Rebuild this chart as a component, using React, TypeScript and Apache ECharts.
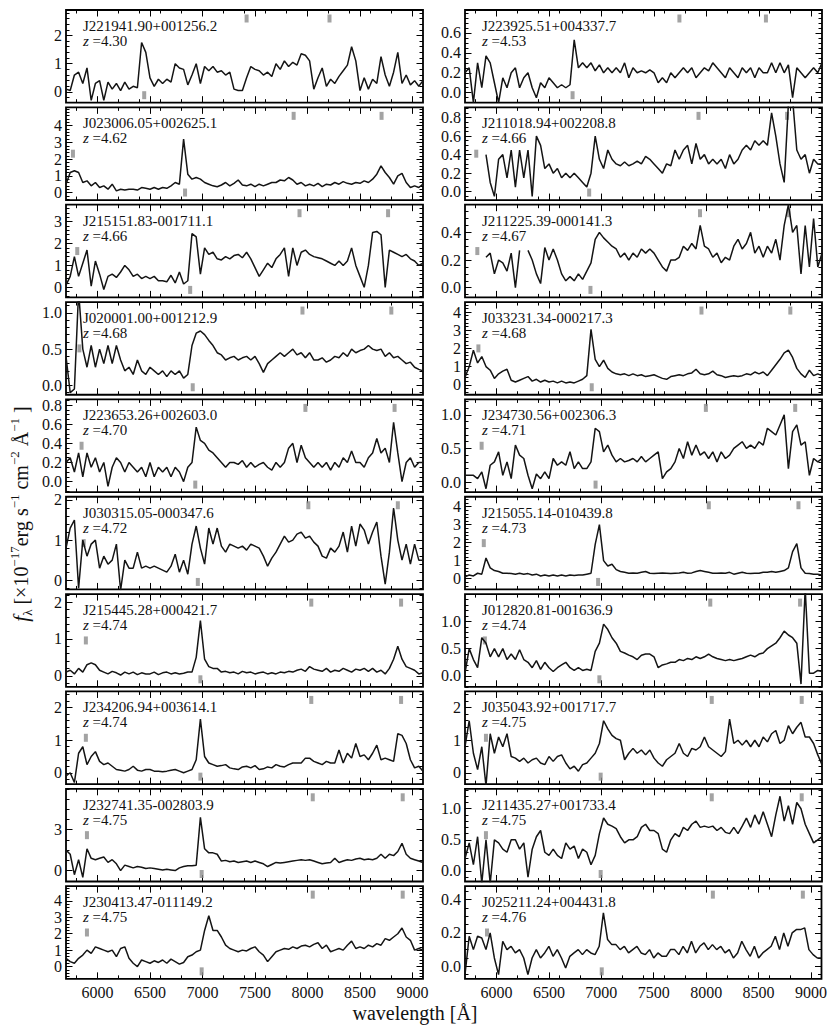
import React, { useEffect, useRef } from "react";
import * as echarts from "echarts";

// ---------------- data ----------------
const WAVE = [
  5700, 5740, 5780, 5820, 5860, 5900, 5940, 5980, 6020, 6060,
  6100, 6140, 6180, 6220, 6260, 6300, 6340, 6380, 6420, 6460,
  6500, 6540, 6580, 6620, 6660, 6700, 6740, 6780, 6820, 6860,
  6900, 6940, 6980, 7020, 7060, 7100, 7140, 7180, 7220, 7260,
  7300, 7340, 7380, 7420, 7460, 7500, 7540, 7580, 7620, 7660,
  7700, 7740, 7780, 7820, 7860, 7900, 7940, 7980, 8020, 8060,
  8100, 8140, 8180, 8220, 8260, 8300, 8340, 8380, 8420, 8460,
  8500, 8540, 8580, 8620, 8660, 8700, 8740, 8780, 8820, 8860,
  8900, 8940, 8980, 9020, 9060, 9100,
];

const NAMES = [
  "J221941.90+001256.2", "J023006.05+002625.1", "J215151.83-001711.1", "J020001.00+001212.9", "J223653.26+002603.0",
  "J030315.05-000347.6", "J215445.28+000421.7", "J234206.94+003614.1", "J232741.35-002803.9", "J230413.47-011149.2",
  "J223925.51+004337.7", "J211018.94+002208.8", "J211225.39-000141.3", "J033231.34-000217.3", "J234730.56+002306.3",
  "J215055.14-010439.8", "J012820.81-001636.9", "J035043.92+001717.7", "J211435.27+001733.4", "J025211.24+004431.8",
];

const REDSHIFTS = [4.30, 4.62, 4.66, 4.68, 4.70, 4.72, 4.74, 4.74, 4.75, 4.75,
  4.53, 4.66, 4.67, 4.68, 4.71, 4.73, 4.74, 4.75, 4.75, 4.76];

const Y_MIN = [-0.38, -0.45, -0.46, -0.13, -0.11, -0.23, -0.3, -0.35, -0.8, -0.75,
  -0.1, -0.09, -0.07, -0.55, -0.15, -0.6, -0.2, -0.35, -0.17, -0.075];
const Y_MAX = [2.9, 5.1, 3.77, 1.15, 0.86, 2.08, 2.22, 2.5, 6.0, 4.9,
  0.83, 0.91, 0.6, 4.55, 1.23, 4.55, 1.5, 2.5, 1.32, 0.48];

const Y_TICKS = [
  [0, 1, 2], [0, 1, 2, 3, 4], [0, 1, 2, 3], [0, 0.5, 1], [0, 0.2, 0.4, 0.6, 0.8],
  [0, 1, 2], [0, 1, 2], [0, 1, 2], [0, 3], [0, 1, 2, 3, 4],
  [0, 0.2, 0.4, 0.6], [0, 0.2, 0.4, 0.6, 0.8], [0, 0.2, 0.4], [0, 1, 2, 3, 4], [0, 0.5, 1],
  [0, 1, 2, 3, 4], [0, 0.5, 1], [0, 1, 2], [0, 0.5, 1], [0, 0.2, 0.4],
];
const Y_MINOR_STEP = [0.2, 0.2, 0.2, 0.1, 0.05, 0.2, 0.2, 0.2, 0.75, 0.2,
  0.05, 0.05, 0.05, 0.2, 0.1, 0.2, 0.1, 0.2, 0.1, 0.05];
const Y_DECIMALS = [0, 0, 0, 1, 1, 0, 0, 0, 0, 0, 1, 1, 1, 0, 1, 0, 1, 0, 1, 1];

const X_TICKS = [6000, 6500, 7000, 7500, 8000, 8500, 9000];
const X_MINOR_TICKS = [5800, 6000, 6200, 6400, 6600, 6800, 7000, 7200, 7400, 7600, 7800, 8000, 8200, 8400, 8600, 8800, 9000];

// rest wavelengths of marked lines: Ly-beta, Ly-alpha, SiIV, CIV
const LINE_REST = [1026, 1216, 1400, 1549];
const LINE_SLOT = ["mid", "bottom", "top", "top"];

const F_L0 = [
  0.1, 0.05, 0.6, 0.7, 0.3, 0.85, -0.3, 0.3, 0.4, -0.3,
  0.35, 0.1, 0.3, 0.05, 0.35, 0.1, 0.2, 0.15, 1.75, 1.4,
  0.5, 0.2, 0.45, 0.3, 0.45, 0.35, 1.0, 0.85, 0.8, 0.25,
  0.6, 1.0, 0.3, 0.9, 0.75, 0.9, 0.7, 0.75, 0.6, 0.7,
  0.1, 0.05, 0.05, 0.5, 0.9, 0.8, 0.75, 0.6, 0.7, 0.55,
  1.0, 0.8, 1.1, 0.9, 1.05, 0.95, 1.35, 1.3, 1.1, 0.1,
  0.5, 0.85, 0.2, 0.45, 0.3, 0.55, 0.75, 0.95, 1.6, 1.1,
  0.05, 0.5, 0.1, 0.45, 0.3, 1.25, 0.6, 0.2, 0.7, 1.4,
  0.3, 0.6, 0.25, 0.4, 0.2, 0.4,
];
const F_L1 = [
  0.5, 1.2, 1.3, 1.2, 0.6, 0.7, 0.4, 0.6, 0.3, 0.4,
  0.2, 0.5, 0.1, 0.2, 0.15, 0.2, 0.2, 0.15, 0.3, 0.25,
  0.2, 0.3, 0.2, 0.3, 0.25, 0.4, 0.6, 0.5, 3.2, 1.1,
  0.8, 0.9, 0.8, 0.6, 0.5, 0.4, 0.35, 0.45, 0.6, 0.4,
  0.55, 0.75, 0.45, 0.4, 0.5, 0.35, 0.5, 0.4, 0.5, 0.6,
  0.6, 0.75, 0.7, 0.9, 0.75, 0.5, 0.6, 0.4, 0.5, 0.4,
  0.55, 0.35, 0.5, 0.45, 0.6, 0.5, 0.65, 0.55, 0.5, 0.6,
  0.55, 0.7, 0.6, 0.8, 1.1, 1.6, 1.2, 0.9, 0.5, 1.0,
  1.15, 0.6, 0.3, 0.4, 0.3, 0.5,
];
const F_L2 = [
  0.1, 0.5, 1.4, 0.5, 1.1, 1.7, 0.05, 1.2, 0.6, -0.1,
  0.5, 0.6, 0.45, 0.7, 1.0, 0.8, 0.5, 0.6, 0.4, 0.5,
  0.4, 0.5, 0.3, 0.3, 0.25, 0.55, 0.2, 0.7, 0.15, 0.3,
  2.45, 2.3, 0.6, 1.8, 1.5, 1.6, 1.3, 1.25, 1.4, 1.3,
  1.45, 1.5, 1.35, 1.6, 1.3, 0.9, 0.5, 0.8, 1.1, 0.9,
  1.3, 1.5, 1.8, 0.5, 1.8, 1.0, 1.6, 1.7, 1.5, 1.4,
  1.35, 1.3, 1.2, 1.1, 1.0, 1.2, 1.0, 1.2, 1.8, 1.0,
  0.5, 0.0, 1.0, 2.5, 2.55, 2.4, 0.0, 1.7, 1.6, 1.5,
  1.4, 1.5, 1.3, 1.2, 1.0, 1.1,
];
const F_L3 = [
  0.4, -0.1, -0.05, 1.3, 0.5, 0.25, 0.55, 0.25, 0.5, 0.3,
  0.55, 0.3, 0.55, 0.35, 0.2, 0.25, 0.15, 0.35, 0.2, 0.15,
  0.25, 0.2, 0.15, 0.2, 0.12, 0.2, 0.15, 0.2, 0.1, 0.15,
  0.55, 0.72, 0.75, 0.7, 0.62, 0.55, 0.45, 0.42, 0.35, 0.38,
  0.4, 0.35, 0.38, 0.4, 0.35, 0.4, 0.3, 0.18, 0.3, 0.35,
  0.4, 0.45, 0.4, 0.45, 0.5, 0.42, 0.45, 0.38, 0.45, 0.35,
  0.35, 0.38, 0.32, 0.35, 0.4, 0.38, 0.45, 0.4, 0.5, 0.45,
  0.48, 0.5, 0.55, 0.5, 0.48, 0.5, 0.4, 0.45, 0.38, 0.4,
  0.35, 0.3, 0.32, 0.25, 0.22, 0.2,
];
const F_L4 = [
  0.2, 0.25, 0.1, 0.3, 0.05, 0.3, 0.15, 0.25, 0.1, 0.2,
  -0.05, 0.15, 0.25, 0.2, 0.1, 0.2, 0.15, 0.1, 0.15, 0.05,
  0.2, 0.05, 0.15, 0.1, 0.15, 0.05, 0.15, 0.1, 0.0, 0.15,
  0.2, 0.57, 0.43, 0.4, 0.33, 0.3, 0.25, 0.2, 0.15, 0.2,
  0.2, 0.18, 0.22, 0.15, 0.2, 0.15, 0.18, 0.2, 0.15, 0.12,
  0.2, 0.15, 0.2, 0.35, 0.4, 0.2, 0.38, 0.25, 0.2, 0.15,
  0.2, 0.15, 0.2, 0.12, 0.2, 0.15, 0.25, 0.2, 0.32, 0.2,
  0.2, 0.15, 0.25, 0.3, 0.45, 0.3, 0.35, 0.2, 0.62, 0.3,
  0.0, 0.2, 0.25, 0.15, 0.2, 0.2,
];
const F_L5 = [
  0.8, 1.3, 1.5, -0.2, 1.0, 0.6, 0.9, 1.0, 0.3, 0.6,
  0.4, 0.5, 0.9, -0.25, 0.5, 0.3, 0.3, 0.7, 0.3, 0.35,
  0.3, 0.35, 0.3, 0.25, 0.2, 0.35, 0.65, 0.2, 0.5, 0.15,
  0.9, 1.35, 0.8, 0.4, 1.3, 0.9, 1.3, 0.85, 0.7, 0.9,
  0.85, 0.8, 0.85, 0.75, 0.9, 0.85, 0.8, 0.6, 0.35, 0.55,
  0.7, 0.9, 1.1, 0.95, 1.0, 1.15, 1.2, 1.05, 1.1, 0.95,
  0.85, 0.6, 0.55, 0.8, 0.7, 0.85, 1.2, 0.7, 1.35, 0.85,
  1.4, 1.25, 0.9, 1.2, 1.45, 0.6, -0.1, 0.7, 1.8, 1.0,
  0.5, 0.9, 0.4, 0.9, 0.5, 0.5,
];
const F_L6 = [
  0.1, 0.15, 0.05, 0.2, 0.1, 0.3, 0.35, 0.3, 0.15, 0.1,
  0.05, 0.12, 0.08, 0.02, 0.1, 0.05, 0.1, 0.03, 0.08, 0.05,
  0.05, 0.1, 0.03, 0.08, 0.1, 0.05, 0.08, 0.05, 0.07, 0.1,
  0.1, 0.5, 1.5, 0.45, 0.25, 0.2, 0.2, 0.1, 0.12, 0.08,
  0.1, 0.05, 0.12, 0.08, 0.1, 0.05, 0.08, 0.1, 0.05, 0.08,
  0.05, 0.1, 0.08, 0.12, 0.1, 0.15, 0.18, 0.12, 0.25, 0.18,
  0.15, 0.12, 0.2, 0.1, 0.15, 0.12, 0.2, 0.15, 0.1, 0.18,
  0.15, 0.2, 0.12, 0.2, 0.1, 0.15, 0.05, 0.2, 0.45, 0.8,
  0.45, 0.25, 0.2, 0.15, 0.05, 0.08,
];
const F_L7 = [
  -0.1, 0.0, -0.3, 0.6, 0.8, 0.25, 0.5, 0.65, 0.35, 0.25,
  0.3, 0.2, 0.1, 0.08, 0.05, 0.1, 0.2, 0.08, 0.05, 0.1,
  0.1, 0.05, 0.05, 0.03, 0.05, 0.08, 0.1, 0.05, 0.0, 0.05,
  0.1, 0.4, 1.65, 0.5, 0.3, 0.25, 0.2, 0.22, 0.25, 0.15,
  0.12, 0.1, 0.18, 0.2, 0.15, 0.22, 0.1, 0.12, 0.18, 0.15,
  0.25, 0.2, 0.18, 0.25, 0.3, 0.3, 0.3, 0.45, 0.45, 0.35,
  0.3, 0.25, 0.35, 0.3, 0.3, 0.7, 0.3, 0.6, 0.45, 0.9,
  0.5, 0.55, 0.4, 0.6, 0.85, 0.4, 0.45, 0.4, 0.35, 1.2,
  1.15, 0.9, 0.4, 0.15, 0.2, 0.05,
];
const F_L8 = [
  1.5, 1.2, -0.3, 0.8, -0.5, 1.6, 0.9, 0.8, 0.9, 1.0,
  0.6, 0.8, 0.5, 0.0, 0.4, 0.3, 0.2, 0.3, 0.25, 0.15,
  0.2, 0.15, 0.1, 0.05, 0.1, 0.05, 0.0, 0.2, 0.3, 0.35,
  0.35, 0.4, 3.9, 1.6, 1.3, 1.3, 1.2, 0.7, 0.75, 0.65,
  0.7, 0.6, 0.65, 0.7, 0.6, 0.7, 0.6, 0.5, 0.3, 0.45,
  0.6, 0.55, 0.6, 0.65, 0.7, 0.75, 0.8, 0.75, 0.8, 0.7,
  0.6, 0.5, 0.55, 0.6, 0.9, 0.6, 0.7, 0.8, 0.75, 0.85,
  0.9, 0.8, 0.85, 0.8, 0.9, 1.2, 0.9, 1.2, 1.1, 1.4,
  2.0, 1.2, 0.9, 0.8, 0.7, 0.6,
];
const F_L9 = [
  0.5, 0.3, 0.2, 0.5, 0.7, 1.0, 0.8, 1.2, 1.1, 1.0,
  0.9, 1.0, 0.6, 1.1, 1.2, 0.5, 0.2, 0.0, 0.4, 0.3,
  0.2, 0.35, 0.25, 0.4, 0.2, 0.45, 0.3, 0.15, 0.25, 0.6,
  0.7, 0.9, 1.0, 2.2, 3.1, 2.2, 2.2, 1.8, 1.3, 1.1,
  1.0, 0.9, 1.0, 0.95, 1.1, 1.2, 0.9, 0.7, 0.3, 0.6,
  0.9, 1.0, 1.1, 1.05, 1.2, 1.1, 1.25, 1.3, 1.2, 1.35,
  1.45, 1.1, 1.3, 0.9, 1.0, 1.1, 1.0, 1.3, 1.55, 1.1,
  1.2, 1.1, 1.3, 1.2, 1.4, 1.3, 1.7, 1.6, 1.8, 2.0,
  2.35, 1.8, 1.6, 1.0, 1.1, 1.0,
];
const F_R0 = [
  0.2, 0.25, -0.1, 0.3, 0.05, 0.37, 0.3, 0.1, -0.1, 0.15,
  0.05, 0.2, 0.25, 0.05, 0.15, 0.2, 0.05, -0.05, 0.1, 0.05,
  0.15, 0.1, 0.05, 0.08, 0.05, 0.08, 0.53, 0.25, 0.3, 0.25,
  0.3, 0.22, 0.28, 0.2, 0.25, 0.2, 0.25, 0.2, 0.3, 0.15,
  0.25, 0.2, 0.22, 0.2, 0.23, 0.2, 0.1, 0.15, 0.1, 0.2,
  0.15, 0.2, 0.25, 0.2, 0.25, 0.15, 0.2, 0.25, 0.22, 0.3,
  0.25, 0.2, 0.15, 0.25, 0.2, 0.15, 0.25, 0.2, 0.25, 0.15,
  0.25, 0.2, 0.2, 0.3, 0.2, 0.3, 0.2, 0.28, -0.05, 0.25,
  0.2, 0.15, 0.2, 0.25, 0.2, 0.3,
];
const F_R1 = [
  null, null, null, null, null, 0.4, 0.1, -0.05, 0.35, 0.4,
  0.15, 0.45, 0.05, 0.45, 0.15, 0.45, -0.05, 0.6, 0.5, 0.25,
  0.3, 0.2, 0.25, 0.15, 0.2, 0.15, 0.2, 0.15, 0.1, 0.05,
  0.2, 0.6, 0.35, 0.25, 0.45, 0.35, 0.3, 0.28, 0.32, 0.28,
  0.3, 0.33, 0.3, 0.38, 0.35, 0.3, 0.25, 0.2, 0.3, 0.28,
  0.45, 0.35, 0.45, 0.5, 0.3, 0.52, 0.35, 0.4, 0.3, 0.35,
  0.3, 0.35, 0.25, 0.4, 0.3, 0.35, 0.45, 0.5, 0.45, 0.55,
  0.5, 0.55, 0.5, 0.85, 0.6, 0.3, 0.1, 0.95, 1.0, 0.45,
  0.35, 0.4, 0.2, 0.35, 0.3, 0.3,
];
const F_R2 = [
  null, null, null, null, null, 0.22, 0.25, 0.1, 0.2, 0.18,
  0.12, 0.25, 0.0, 0.27, null, 0.27, 0.2, 0.1, 0.03, 0.29,
  0.2, 0.28, 0.2, 0.1, 0.05, 0.08, 0.05, 0.1, 0.06, 0.12,
  0.18, 0.35, 0.4, 0.36, 0.33, 0.3, 0.28, 0.22, 0.25, 0.2,
  0.25, 0.22, 0.28, 0.25, 0.28, 0.25, 0.2, 0.15, 0.12, 0.2,
  0.2, 0.22, 0.3, 0.27, 0.32, 0.28, 0.45, 0.3, 0.28, 0.22,
  0.25, 0.18, 0.22, 0.2, 0.3, 0.35, 0.28, 0.32, 0.4, 0.25,
  0.3, 0.22, 0.3, 0.25, 0.35, 0.2, 0.45, 0.6, 0.4, 0.45,
  0.1, 0.45, 0.15, 0.5, 0.15, 0.25,
];
const F_R3 = [
  0.4, 1.0, 1.9, 1.2, 1.55, 1.0, 0.8, 0.35, 0.6, 0.75,
  0.85, 0.25, 0.15, 0.25, 0.35, 0.45, 0.2, 0.3, 0.15, 0.25,
  0.15, 0.2, 0.1, 0.2, 0.1, 0.15, 0.1, 0.2, 0.3, 0.5,
  3.05, 1.4, 1.0, 1.35, 0.9, 0.7, 0.6, 0.55, 0.6, 0.5,
  0.6, 0.5, 0.55, 0.45, 0.5, 0.55, 0.45, 0.35, 0.3, 0.45,
  0.5, 0.55, 0.5, 0.6, 0.65, 0.85, 0.6, 0.55, 0.6, 0.75,
  0.55, 0.5, 0.4, 0.45, 0.5, 0.45, 0.5, 0.6, 0.55, 0.7,
  0.6, 0.7, 0.5, 0.8, 1.1, 1.4, 1.75, 1.9, 1.5, 0.9,
  0.6, 0.4, 0.8, 0.5, 0.6, 0.5,
];
const F_R4 = [
  0.1, 0.1, 0.1, 0.05, 0.15, -0.1, 0.25, 0.3, 0.45, 0.1,
  0.3, 0.05, 0.55, 0.4, 0.35, 0.1, -0.1, 0.12, 0.05, 0.15,
  0.05, 0.35, 0.25, 0.3, 0.25, 0.45, 0.2, 0.3, 0.2, 0.2,
  0.3, 0.8, 0.75, 0.45, 0.55, 0.4, 0.3, 0.35, 0.3, 0.32,
  0.35, 0.3, 0.38, 0.3, 0.35, 0.4, 0.45, 0.05, 0.15, 0.2,
  0.3, 0.5, 0.35, 0.6, 0.4, 0.55, 0.4, 0.45, 0.35, 0.45,
  0.3, 0.45, 0.35, 0.4, 0.5, 0.55, 0.6, 0.5, 0.55, 0.5,
  0.6, 0.55, 0.8, 0.75, 0.7, 0.85, 1.0, 0.2, 0.75, 0.85,
  0.55, 0.6, 0.1, 0.35, 0.3, 0.35,
];
const F_R5 = [
  0.1, 0.2, 0.15, 0.3, 0.25, 1.15, 0.6, 0.45, 0.4, 0.3,
  0.3, 0.28, 0.25, 0.3, 0.25, 0.28, 0.2, 0.25, 0.15, 0.2,
  0.15, 0.2, 0.15, 0.2, 0.15, 0.2, 0.18, 0.2, 0.2, 0.25,
  0.3, 1.9, 3.0, 1.0, 0.7, 0.8, 0.5, 0.4, 0.35, 0.3,
  0.32, 0.3, 0.35, 0.4, 0.3, 0.28, 0.3, 0.32, 0.3, 0.28,
  0.3, 0.32, 0.35, 0.3, 0.32, 0.4, 0.45, 0.4, 0.35, 0.3,
  0.3, 0.32, 0.3, 0.35, 0.25, 0.3, 0.35, 0.3, 0.28, 0.3,
  0.3, 0.35, 0.35, 0.4, 0.35, 0.4, 0.45, 0.6, 1.5, 1.95,
  0.6, 0.3, 0.28, 0.25, 0.25, 0.2,
];
const F_R6 = [
  0.05, 0.5, 0.3, 0.15, 0.7, 0.6, 0.35, 0.5, 0.35, 0.5,
  0.3, 0.4, 0.3, 0.48, 0.3, 0.25, 0.15, 0.28, 0.12, 0.25,
  0.15, 0.08, 0.15, 0.2, 0.25, 0.15, 0.1, 0.15, 0.1, 0.12,
  0.1, 0.45, 0.6, 0.95, 0.85, 0.7, 0.6, 0.45, 0.42, 0.38,
  0.35, 0.3, 0.38, 0.4, 0.4, 0.35, 0.15, 0.2, 0.22, 0.25,
  0.25, 0.3, 0.28, 0.32, 0.3, 0.35, 0.32, 0.35, 0.4, 0.35,
  0.32, 0.3, 0.28, 0.3, 0.28, 0.3, 0.32, 0.35, 0.38, 0.35,
  0.4, 0.42, 0.5, 0.55, 0.6, 0.7, 0.82, 0.75, 0.7, 0.6,
  -0.15, 1.6, 0.05, 0.05, 0.1, 0.08,
];
const F_R7 = [
  0.8, 1.6, 0.6, 0.1, 0.8, -0.4, 1.2, 0.6, 1.1, 0.8,
  1.2, 0.5, 0.45, 0.35, 0.45, 0.3, 0.4, 0.45, 0.3, 0.25,
  0.5, 0.35, 0.5, 0.55, 0.3, 0.12, 0.2, 0.05, 0.25, 0.3,
  0.45, 0.6, 0.9, 1.6, 1.35, 1.15, 1.05, 1.0, 0.4, 0.6,
  0.75, 0.6, 0.7, 0.55, 0.7, 0.45, 0.3, 0.2, 0.4, 0.5,
  0.6, 0.9, 0.6, 0.5, 0.75, 0.7, 0.8, 1.1, 0.8, 0.7,
  0.6, 0.5, 0.65, 1.65, 0.9, 1.0, 0.85, 1.0, 0.8, 1.0,
  0.8, 1.1, 0.95, 1.2, 1.3, 0.9, 1.0, 1.45, 1.2, 1.4,
  1.55, 1.1, 1.1, 0.9, 0.55, 0.25,
];
const F_R8 = [
  0.2, 0.45, 0.1, 0.55, -0.2, 0.5, -0.2, 0.5, 0.45, 0.35,
  0.3, 0.5, 0.5, 0.35, 0.45, -0.1, 0.35, 0.55, 0.65, 0.3,
  0.25, 0.35, 0.25, 0.2, 0.45, 0.35, 0.4, 0.2, 0.35, 0.3,
  0.1, 0.25, 0.6, 0.85, 0.75, 0.72, 0.68, 0.55, 0.45, 0.5,
  0.5, 0.55, 0.7, 0.75, 0.65, 0.65, 0.6, 0.35, 0.3, 0.5,
  0.6, 0.55, 0.7, 0.65, 0.75, 0.8, 0.7, 0.72, 0.7, 0.72,
  0.65, 0.7, 0.62, 0.6, 0.7, 0.6, 0.72, 0.85, 0.7, 0.9,
  0.75, 0.95, 0.75, 0.55, 0.9, 1.2, 0.8, 1.05, 0.75, 1.1,
  1.0, 0.75, 0.6, 0.45, 0.5, 0.55,
];
const F_R9 = [
  -0.05, 0.18, 0.1, 0.18, 0.17, 0.1, 0.2, 0.05, -0.05, 0.15,
  0.1, 0.12, 0.08, 0.1, 0.05, -0.05, 0.05, 0.1, 0.05, 0.08,
  0.12, 0.06, 0.1, 0.05, -0.01, 0.06, 0.08, 0.1, 0.07, 0.1,
  0.08, 0.07, 0.12, 0.32, 0.16, 0.13, 0.13, 0.1, 0.12, 0.08,
  0.1, 0.12, 0.08, 0.07, 0.1, 0.05, 0.08, 0.06, 0.06, 0.1,
  0.1, 0.07, 0.12, 0.08, 0.15, 0.08, 0.12, 0.14, 0.1, 0.13,
  0.1, 0.12, 0.08, 0.1, 0.05, 0.08, 0.15, 0.1, 0.06, 0.12,
  0.05, 0.08, 0.1, 0.12, 0.18, 0.1, 0.2, 0.12, 0.2, 0.22,
  0.22, 0.23, 0.1, 0.07, 0.05, 0.05,
];

const FLUXES = [F_L0, F_L1, F_L2, F_L3, F_L4, F_L5, F_L6, F_L7, F_L8, F_L9,
  F_R0, F_R1, F_R2, F_R3, F_R4, F_R5, F_R6, F_R7, F_R8, F_R9];

// ---------------- layout ----------------
const FONT = "Liberation Serif";
const X_MIN = 5700;
const X_MAX = 9100;
const COL_LEFT = [66, 465];
const GRID_W = 357;
const GRID_TOP0 = 10;
const ROW_STEP = 97.35;
const GRID_H = 92.7;

function minorValues(min: number, max: number, step: number) {
  const out: number[] = [];
  const start = Math.ceil(min / step - 1e-9);
  for (let k = start; k * step <= max + 1e-9; k++) out.push(+(k * step).toFixed(4));
  return out;
}

function buildOption() {
  const grids: any[] = [];
  const xAxes: any[] = [];
  const yAxes: any[] = [];
  const series: any[] = [];
  const elements: any[] = [];

  for (let p = 0; p < 20; p++) {
    const col = Math.floor(p / 10);
    const row = p % 10;
    const left = COL_LEFT[col];
    const top = GRID_TOP0 + row * ROW_STEP;
    const ymin = Y_MIN[p];
    const ymax = Y_MAX[p];
    const dec = Y_DECIMALS[p];
    const yMinor = minorValues(ymin, ymax, Y_MINOR_STEP[p]);

    grids.push({
      left, top, width: GRID_W, height: GRID_H,
      show: true, borderColor: "#000", borderWidth: 1.8, backgroundColor: "transparent",
    });

    const tickStyle = { color: "#000", width: 1 };
    const noLine = { show: false, onZero: false };
    const xBase = { gridIndex: p, type: "value", min: X_MIN, max: X_MAX, axisLine: noLine, splitLine: { show: false } };
    xAxes.push({
      ...xBase, position: "bottom",
      axisTick: { show: true, inside: true, length: 6.5, customValues: X_TICKS, lineStyle: tickStyle },
      axisLabel: {
        show: row === 9, customValues: X_TICKS, fontFamily: FONT, fontSize: 16, color: "#111", margin: 6,
        formatter: (v: number) => String(Math.round(v)),
      },
    });
    xAxes.push({
      ...xBase, position: "bottom",
      axisTick: { show: true, inside: true, length: 3.5, customValues: X_MINOR_TICKS, lineStyle: tickStyle },
      axisLabel: { show: false },
    });
    xAxes.push({
      ...xBase, position: "top",
      axisTick: { show: true, inside: true, length: 6.5, customValues: X_TICKS, lineStyle: tickStyle },
      axisLabel: { show: false },
    });
    xAxes.push({
      ...xBase, position: "top",
      axisTick: { show: true, inside: true, length: 3.5, customValues: X_MINOR_TICKS, lineStyle: tickStyle },
      axisLabel: { show: false },
    });

    const yBase = { gridIndex: p, type: "value", min: ymin, max: ymax, axisLine: noLine, splitLine: { show: false } };
    yAxes.push({
      ...yBase, position: "left",
      axisTick: { show: true, inside: true, length: 6.5, customValues: Y_TICKS[p], lineStyle: tickStyle },
      axisLabel: {
        show: true, customValues: Y_TICKS[p], fontFamily: FONT, fontSize: 16, color: "#111", margin: 4,
        formatter: (v: number) => Number(v).toFixed(dec),
      },
    });
    yAxes.push({
      ...yBase, position: "left",
      axisTick: { show: true, inside: true, length: 3.5, customValues: yMinor, lineStyle: tickStyle },
      axisLabel: { show: false },
    });
    yAxes.push({
      ...yBase, position: "right",
      axisTick: { show: true, inside: true, length: 6.5, customValues: Y_TICKS[p], lineStyle: tickStyle },
      axisLabel: { show: false },
    });
    yAxes.push({
      ...yBase, position: "right",
      axisTick: { show: true, inside: true, length: 3.5, customValues: yMinor, lineStyle: tickStyle },
      axisLabel: { show: false },
    });

    const flux = FLUXES[p];
    series.push({
      type: "line",
      xAxisIndex: 4 * p,
      yAxisIndex: 4 * p,
      data: WAVE.map((w, i) => [w, flux[i] === null ? "-" : flux[i]]),
      showSymbol: false,
      symbol: "none",
      connectNulls: false,
      clip: true,
      silent: true,
      lineStyle: { color: "#141414", width: 1.5 },
      z: 3,
    });

    const z = REDSHIFTS[p];
    const span = ymax - ymin;
    const marks: any[] = [];
    LINE_REST.forEach((rest, k) => {
      const obs = rest * (1 + z);
      if (obs < X_MIN || obs > X_MAX) return;
      const slot = LINE_SLOT[k];
      const y = slot === "mid" ? (ymin + ymax) / 2
        : slot === "bottom" ? ymin + (7.5 / GRID_H) * span
        : ymax - (8.5 / GRID_H) * span;
      marks.push([obs, y]);
    });
    series.push({
      type: "scatter",
      xAxisIndex: 4 * p,
      yAxisIndex: 4 * p,
      data: marks,
      symbol: "rect",
      symbolSize: [4, 8],
      silent: true,
      itemStyle: { color: "#8c8c8c" },
      z: 2,
    });

    elements.push({
      type: "text",
      x: left + 17,
      y: top + 16,
      z: 10,
      silent: true,
      style: { text: NAMES[p], fontFamily: FONT, fontSize: 15, fill: "#111", verticalAlign: "middle", align: "left" },
    });
    elements.push({
      type: "text",
      x: left + 17,
      y: top + 31,
      z: 10,
      silent: true,
      style: {
        text: "{i|z} {n|=" + z.toFixed(2) + "}",
        fontFamily: FONT, fontSize: 15, fill: "#111", verticalAlign: "middle", align: "left",
        rich: {
          i: { fontFamily: FONT, fontSize: 15, fontStyle: "italic", fill: "#111" },
          n: { fontFamily: FONT, fontSize: 15, fill: "#111" },
        },
      },
    });
  }

  elements.push({
    type: "text",
    x: 415,
    y: 1013,
    silent: true,
    style: { text: "wavelength [Å]", fontFamily: FONT, fontSize: 20, fill: "#111", align: "center", verticalAlign: "middle" },
  });
  elements.push({
    type: "text",
    x: 21,
    y: 514,
    rotation: Math.PI / 2,
    silent: true,
    style: {
      text: "{i|f}{sub|λ}{n| [×10}{sup|−17}{n|erg s}{sup|−1}{n| cm}{sup|−2}{n| Å}{sup|−1}{n| ]}",
      align: "center",
      verticalAlign: "middle",
      fontFamily: FONT,
      fontSize: 20,
      fill: "#111",
      rich: {
        n: { fontFamily: FONT, fontSize: 20, lineHeight: 26, fill: "#111" },
        i: { fontFamily: FONT, fontSize: 21, fontStyle: "italic", lineHeight: 26, fill: "#111" },
        sup: { fontFamily: FONT, fontSize: 13, verticalAlign: "top", lineHeight: 14, fill: "#111" },
        sub: { fontFamily: FONT, fontSize: 13, verticalAlign: "bottom", lineHeight: 14, fill: "#111" },
      },
    },
  });

  return {
    animation: false,
    backgroundColor: "#ffffff",
    grid: grids,
    xAxis: xAxes,
    yAxis: yAxes,
    series,
    graphic: { elements },
  };
}

export default function App() {
  const ref = useRef<HTMLDivElement>(null);
  useEffect(() => {
    document.body.style.margin = "0";
    const chart = echarts.init(ref.current as HTMLDivElement, null, { renderer: "svg" });
    chart.setOption(buildOption() as any);
    return () => {
      chart.dispose();
    };
  }, []);
  return <div ref={ref} style={{ width: 830, height: 1030 }} />;
}
